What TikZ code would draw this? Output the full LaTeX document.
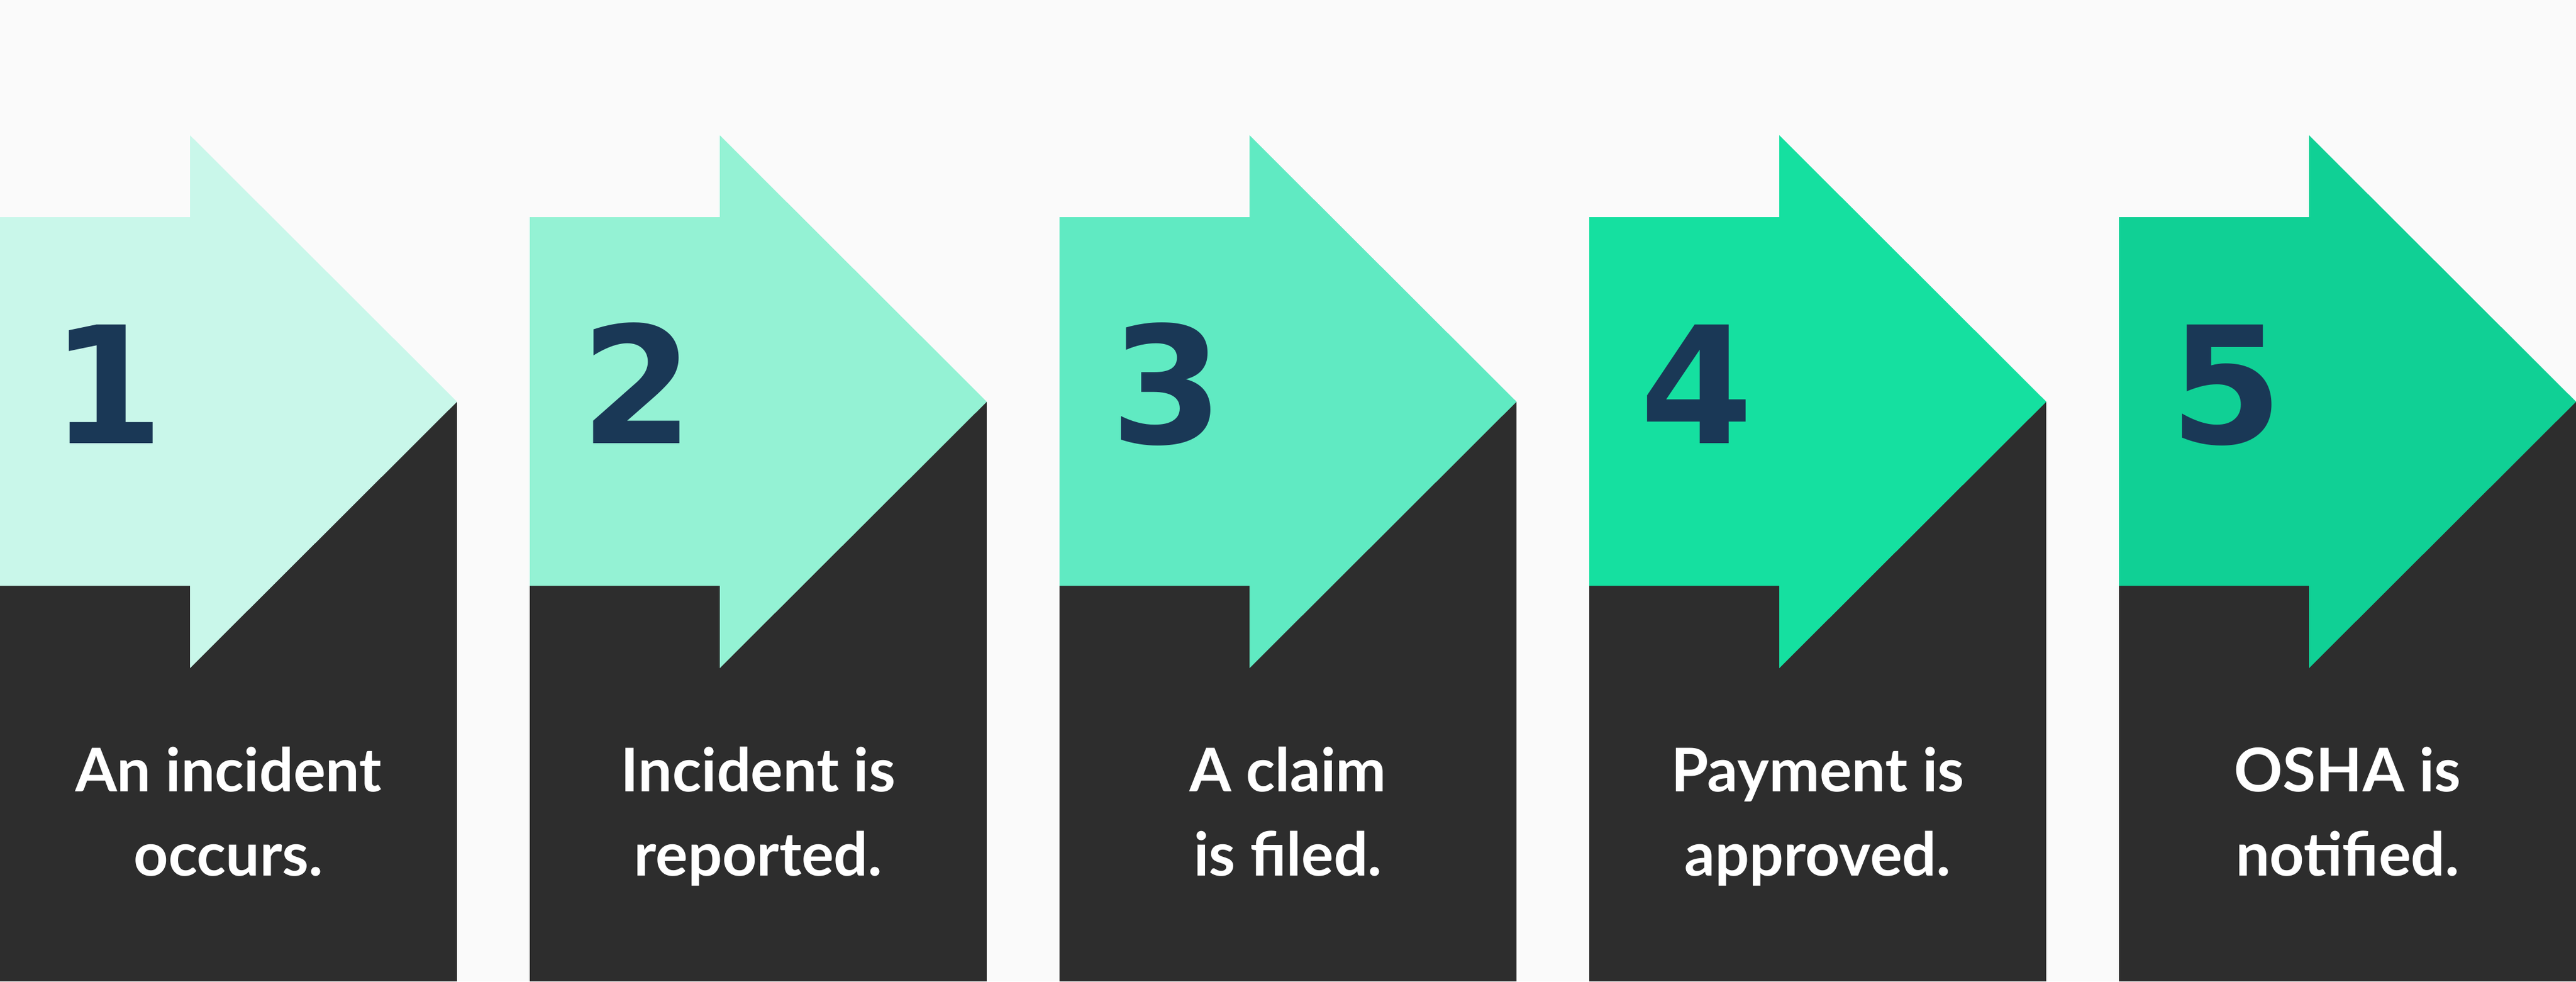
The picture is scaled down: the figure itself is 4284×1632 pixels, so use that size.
\documentclass[tikz,border=0pt]{standalone}
\usepackage{fontspec}
\setmainfont{Lato}
\newfontfamily\numfont{DejaVu Sans}

\definecolor{bggray}{HTML}{FAFAFA}
\definecolor{darkpanel}{HTML}{2D2D2D}
\definecolor{navy}{HTML}{1A3856}
\definecolor{mintA}{HTML}{C9F7EA}
\definecolor{mintB}{HTML}{94F2D4}
\definecolor{mintC}{HTML}{60EAC2}
\definecolor{mintD}{HTML}{15E0A0}
\definecolor{mintE}{HTML}{10D095}

\tikzset{
  panel/.style={fill=darkpanel},
  stepnum/.style={anchor=base west, inner sep=0pt, text=navy,
    font=\numfont\bfseries\fontsize{77}{77}\selectfont},
  steplbl/.style={anchor=base, inner sep=0pt, text=white, align=center,
    font=\bfseries\fontsize{28.5}{39.8}\selectfont}
}

\begin{document}
\begin{tikzpicture}[x=0.01cm, y=-0.01cm]
    \fill[bggray] (0, 0) rectangle (4284, 1632);
    \useasboundingbox (0, 0) rectangle (4284, 1632);

    % Steps
    \foreach \i/\shade/\txt in {0/mintA/An incident\\occurs.,
                                1/mintB/Incident is\\reported.,
                                2/mintC/A claim\\is filed.,
                                3/mintD/Payment is\\approved.,
                                4/mintE/OSHA is\\notified.} {
      \begin{scope}[xshift={881*\i*0.01cm}]
        \fill[panel] (0, 668) rectangle (760, 1632);
        \fill[\shade] (0, 361) -- (316, 361) -- (316, 225) -- (760, 668)
                      -- (316, 1111) -- (316, 974) -- (0, 974) -- cycle;
        \node[stepnum] (num\i) at (84, 737) {\pgfmathparse{int(\i+1)}\pgfmathresult};
        \node[steplbl] (lbl\i) at (380, 1456) {\txt};
      \end{scope}
    }
\end{tikzpicture}
\end{document}
